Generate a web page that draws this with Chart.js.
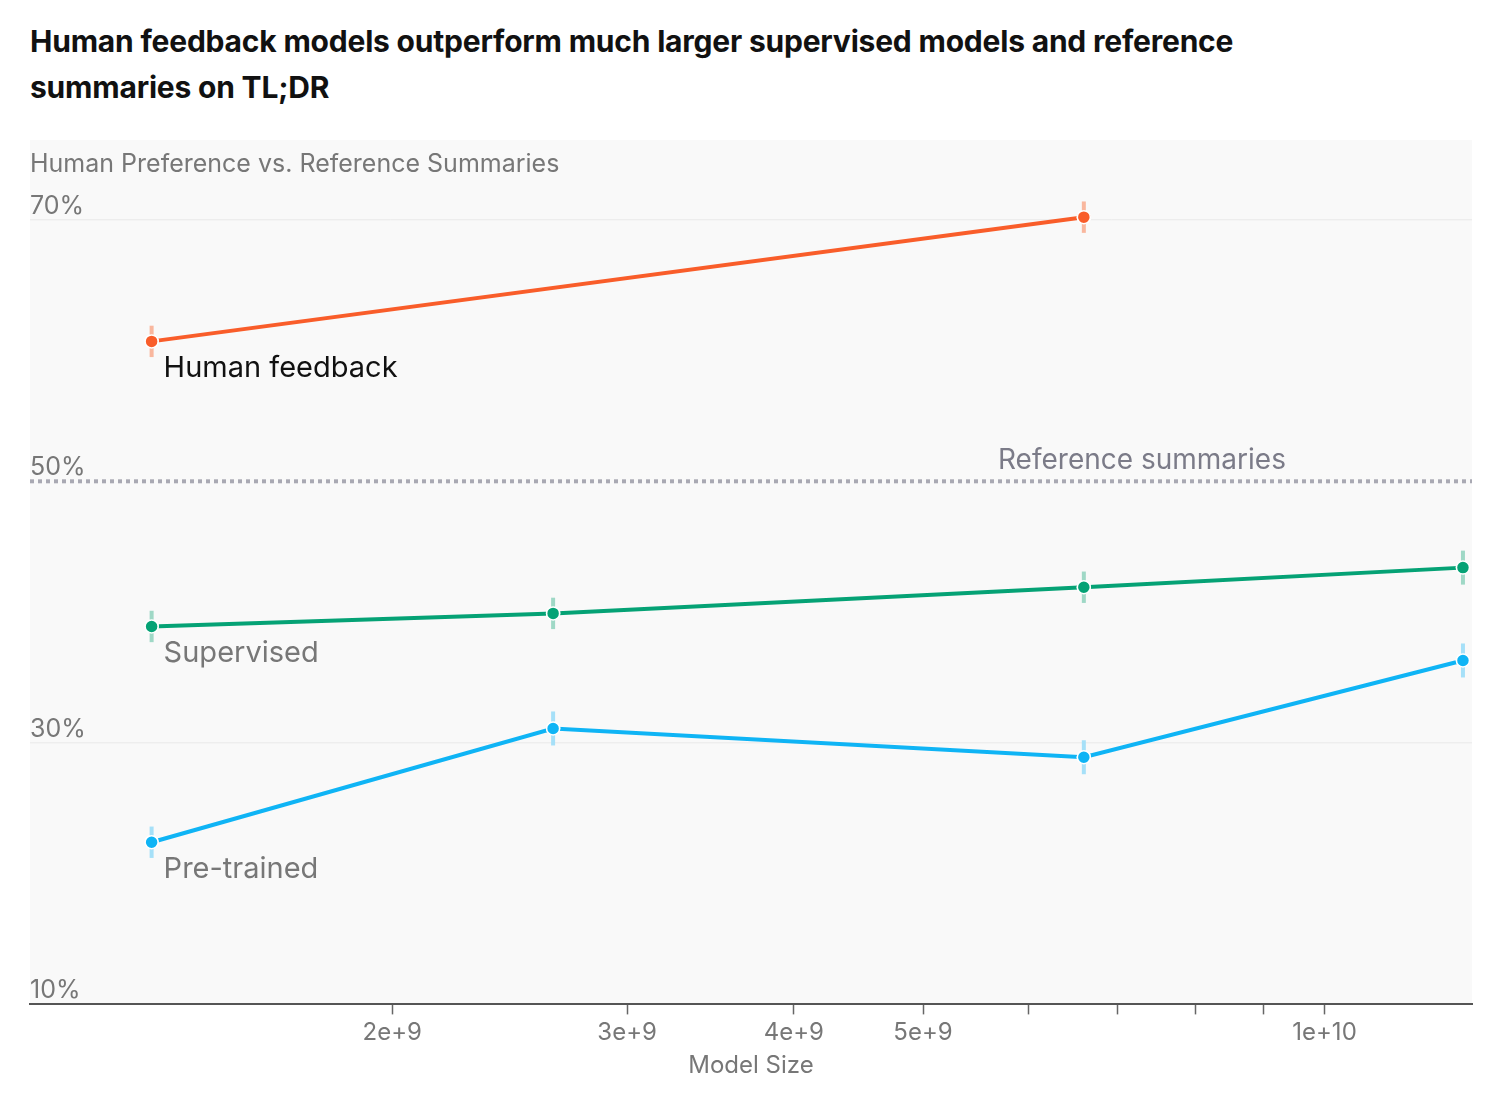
<!DOCTYPE html>
<html><head><meta charset="utf-8">
<script src="https://cdn.jsdelivr.net/npm/chart.js@4"></script>
<style>
body{margin:0;background:#fff;font-family:Inter,"Noto Sans",sans-serif;}
h1{position:absolute;left:30px;top:18px;margin:0;width:1340px;font-size:30px;line-height:46px;font-weight:700;color:#111;letter-spacing:-0.2px}
#wrap{position:absolute;left:0;top:130px;width:1502px;height:960px}
</style></head><body>
<h1>Human feedback models outperform much larger supervised models and reference summaries on TL;DR</h1>
<div id="wrap"><canvas id="c"></canvas></div>
<script>
// model sizes (parameters)
const humanSizes = [1.32e9, 6.6e9]
const humanValues = [60.7, 70.2]
const otherSizes = [1.32e9, 2.64e9, 6.6e9, 12.7e9]
const supervisedValues = [38.9, 39.9, 41.9, 43.4]
const pretrainedValues = [22.4, 31.1, 28.9, 36.3]
const errHuman = [1.2, 1.2]
const errSupervised = [1.2, 1.2, 1.2, 1.3]
const errPretrained = [1.2, 1.3, 1.3, 1.3]
const referenceValue = 50
const xTicks = [2e9, 3e9, 4e9, 5e9, 6e9, 7e9, 8e9, 9e9, 1e10]
const xLabels = { 2e9: "2e+9", 3e9: "3e+9", 4e9: "4e+9", 5e9: "5e+9", 1e10: "1e+10" }
const yTicks = [10, 30, 50, 70]

const pts = (xs, ys) => xs.map((x, i) => ({ x, y: ys[i] }))
const series = [
  { label: "Human feedback", color: "#f95d2a", err: "#f9b79e", text: "#111", data: pts(humanSizes, humanValues), errs: errHuman },
  { label: "Supervised", color: "#05a275", err: "#9fd8c6", text: "#777", data: pts(otherSizes, supervisedValues), errs: errSupervised },
  { label: "Pre-trained", color: "#0fb4f5", err: "#a6e0f8", text: "#777", data: pts(otherSizes, pretrainedValues), errs: errPretrained }
]

const decor = {
  id: "decor",
  beforeDraw(chart) {
    const { ctx, chartArea: a, scales: { x, y } } = chart
    ctx.save()
    ctx.fillStyle = "#f9f9f9"
    ctx.fillRect(a.left, a.top, a.right - a.left, a.bottom - a.top)
    ctx.strokeStyle = "#e9e9e9"
    ctx.lineWidth = 1
    yTicks.forEach(v => {
      if (v === referenceValue || v === 10) return
      const py = y.getPixelForValue(v)
      ctx.beginPath(); ctx.moveTo(a.left, py); ctx.lineTo(a.right, py); ctx.stroke()
    })
    const ry = y.getPixelForValue(referenceValue)
    ctx.strokeStyle = "#a9a9b3"
    ctx.lineWidth = 4
    ctx.setLineDash([4, 4])
    ctx.beginPath(); ctx.moveTo(a.left, ry); ctx.lineTo(a.right, ry); ctx.stroke()
    ctx.setLineDash([])
    ctx.font = "25px Inter, 'Noto Sans', sans-serif"
    ctx.fillStyle = "#777"
    ctx.textBaseline = "alphabetic"
    yTicks.forEach(v => ctx.fillText(v + "%", a.left, y.getPixelForValue(v) - 6))
    ctx.fillText("Human Preference vs. Reference Summaries", a.left, a.top + 32)
    ctx.fillStyle = "#7b7b88"
    ctx.font = "28px Inter, 'Noto Sans', sans-serif"
    ctx.fillText("Reference summaries", 998, ry - 12)
    ctx.restore()
  },
  afterDatasetsDraw(chart) {
    const { ctx, scales: { x, y } } = chart
    ctx.save()
    series.forEach((s, k) => {
      ctx.strokeStyle = s.err
      ctx.lineWidth = 4
      s.data.forEach((p, i) => {
        const px = x.getPixelForValue(p.x)
        ctx.beginPath()
        ctx.moveTo(px, y.getPixelForValue(p.y - s.errs[i]))
        ctx.lineTo(px, y.getPixelForValue(p.y + s.errs[i]))
        ctx.stroke()
      })
      const meta = chart.getDatasetMeta(k)
      meta.data.forEach(el => el.draw(ctx))
      const p0 = s.data[0]
      ctx.fillStyle = s.text
      ctx.font = "29px Inter, 'Noto Sans', sans-serif"
      ctx.fillText(s.label, x.getPixelForValue(p0.x) + 12, y.getPixelForValue(p0.y) + 36)
    })
    ctx.restore()
  }
}

new Chart(document.getElementById("c"), {
  type: "line",
  data: {
    datasets: series.map(s => ({
      label: s.label, data: s.data, borderColor: s.color, backgroundColor: s.color,
      borderWidth: 4, pointRadius: 6.5, pointBorderColor: "#fff", pointBorderWidth: 1.5, tension: 0
    }))
  },
  options: {
    responsive: true, maintainAspectRatio: false, animation: false,
    layout: { padding: { left: 22, right: 30, top: 10, bottom: 6 } },
    plugins: { legend: { display: false }, tooltip: { enabled: false } },
    scales: {
      x: {
        type: "logarithmic", min: 1.07e9, max: 12.9e9,
        afterBuildTicks: ax => { ax.ticks = xTicks.map(v => ({ value: v })) },
        ticks: { autoSkip: false, maxRotation: 0, color: "#777", font: { size: 24, family: "Inter" }, padding: 4, callback: v => xLabels[v] || "" },
        grid: { drawOnChartArea: false, tickLength: 10, color: "#666", tickWidth: 1.5 },
        border: { color: "#555", width: 2 },
        title: { display: true, text: "Model Size", color: "#777", font: { size: 24, family: "Inter" }, padding: { top: 0 } }
      },
      y: {
        min: 10, max: 76.1, display: true,
        ticks: { display: false },
        grid: { display: false },
        border: { display: false }
      }
    }
  },
  plugins: [decor]
})
</script>
</body></html>
